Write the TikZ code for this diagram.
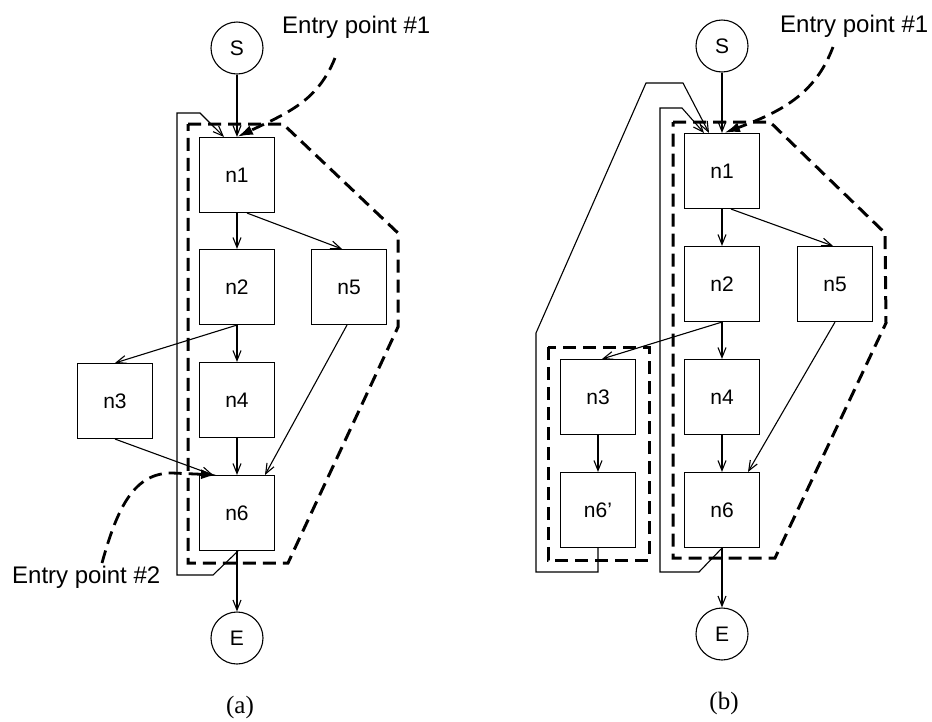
\documentclass[tikz,border=0pt]{standalone}
\usepackage{fontspec}
\setmainfont{Liberation Sans}
\newfontfamily\capfont{Liberation Serif}
\usetikzlibrary{arrows.meta}
\begin{document}
\begin{tikzpicture}[x=1pt,y=-1pt,
  box/.style={draw,line width=1.1pt,minimum width=75pt,minimum height=75pt,inner sep=0pt,font=\fontsize{21}{25}\selectfont},
  term/.style={draw,circle,line width=1.1pt,minimum size=52pt,inner sep=0pt,font=\fontsize{21}{25}\selectfont},
  arr/.style={line width=1.1pt,-{Straight Barb[length=10pt,width=8pt]}},
  region/.style={line width=3pt,dash pattern=on 13pt off 7pt},
  entry/.style={line width=2.8pt,dash pattern=on 13pt off 7pt,-{Latex[length=16pt,width=10pt]}},
  elabel/.style={font=\fontsize{24}{28}\selectfont,anchor=base west,inner sep=0pt},
  subcap/.style={font=\capfont\fontsize{25}{30}\selectfont,inner sep=0pt}
]
\useasboundingbox (0,0) rectangle (932,721);

% ---------------- (a) ----------------
\node[term] (Sa) at (237,48) {S};
\node[box] (n1a) at (237,175) {n1};
\node[box] (n2a) at (237,287) {n2};
\node[box] (n5a) at (349,287) {n5};
\node[box] (n3a) at (115,401) {n3};
\node[box] (n4a) at (237,400) {n4};
\node[box] (n6a) at (237,513) {n6};
\node[term] (Ea) at (237,638) {E};

\draw[arr] (Sa) -- (n1a);
\draw[arr] (n1a) -- (n2a);
\draw[arr] ([xshift=10pt]n1a.south) -- ([xshift=-7pt]n5a.north);
\draw[arr] (n2a.south) -- (n3a.north);
\draw[arr] (n2a) -- (n4a);
\draw[arr] (n3a.south) -- ([xshift=-24pt]n6a.north);
\draw[arr] (n4a) -- (n6a);
\draw[arr] ([xshift=-2pt]n5a.south) -- ([xshift=28pt]n6a.north);
\draw[arr] (n6a) -- (Ea);
\draw[arr] ([xshift=1pt]n6a.south) -- (213,575) -- (177,575) -- (177,113) -- (200,113) -- ([xshift=-13pt]n1a.north);

\draw[region] (188,124) -- (283,124) -- (398,233) -- (398,327) -- (288,563) -- (188,563) -- cycle;

\node[elabel] (ep1a) at (282,33) {Entry point \#1};
\coordinate (ep1as) at (335,58);
\draw[entry] (ep1as) .. controls (318,100) and (290,112) .. (n1a.north);

\node[elabel] (ep2a) at (12,583) {Entry point \#2};
\coordinate (ep2as) at (102,563);
\draw[entry] (ep2as) .. controls (118,505) and (135,473) .. (172,473) -- ([xshift=-20pt]n6a.north);

\node[subcap] (capa) at (240,707) {(a)};

% ---------------- (b) ----------------
\node[term] (Sb) at (722,46) {S};
\node[box] (n1b) at (722,171) {n1};
\node[box] (n2b) at (722,284) {n2};
\node[box] (n5b) at (835,284) {n5};
\node[box] (n3b) at (598,397) {n3};
\node[box] (n4b) at (722,397) {n4};
\node[box] (n6pb) at (598,510) {n6'};
\node[box] (n6b) at (722,510) {n6};
\node[term] (Eb) at (722,634) {E};

\draw[arr] (Sb) -- (n1b);
\draw[arr] (n1b) -- (n2b);
\draw[arr] ([xshift=9pt]n1b.south) -- ([xshift=-2pt]n5b.north);
\draw[arr] (n2b.south) -- ([xshift=4pt]n3b.north);
\draw[arr] (n2b) -- (n4b);
\draw[arr] (n3b) -- (n6pb);
\draw[arr] (n4b) -- (n6b);
\draw[arr] (n5b.south) -- ([xshift=26pt]n6b.north);
\draw[arr] (n6b) -- (Eb);
\draw[arr] (n6b.south) -- (699,572) -- (660,572) -- (660,108) -- (682,108) -- ([xshift=-18pt]n1b.north);
\draw[arr] (n6pb.south) -- (598,572) -- (536,572) -- (536,333) -- (646,83) -- (683,83) -- ([xshift=-13pt]n1b.north);

\draw[region] (673,122) -- (770,122) -- (885,233) -- (886,323) -- (775,558) -- (673,558) -- cycle;
\draw[region] (548,347) rectangle (649,560);

\node[elabel] (ep1b) at (780,32) {Entry point \#1};
\coordinate (ep1bs) at (833,47);
\draw[entry] (ep1bs) .. controls (815,95) and (780,112) .. ([xshift=2pt]n1b.north);

\node[subcap] (capb) at (724,703) {(b)};
\end{tikzpicture}
\end{document}
